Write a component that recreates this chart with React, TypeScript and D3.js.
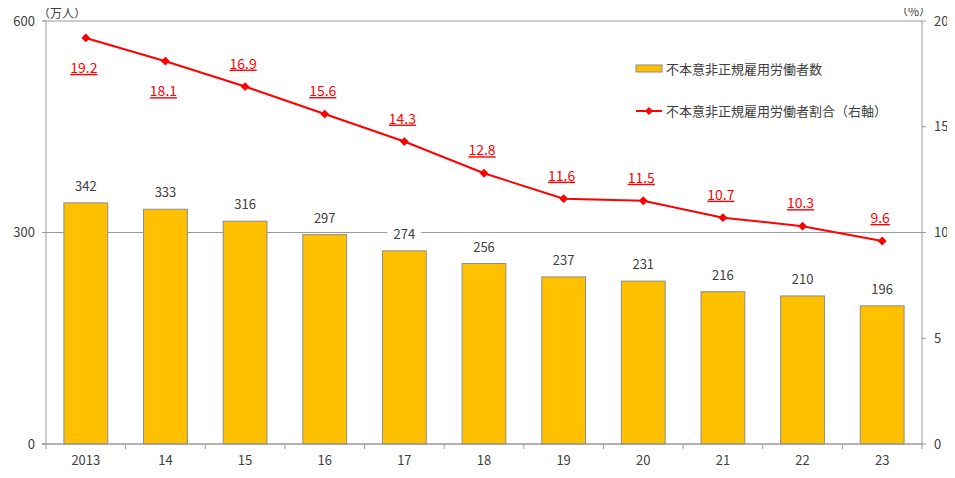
import * as d3 from 'd3'
import { useRef, useEffect } from 'react'

const W = 955, H = 478
const M = { top: 21, right: 33, bottom: 34, left: 46 }

const YEARS = ['2013', '14', '15', '16', '17', '18', '19', '20', '21', '22', '23']
const WORKERS = [342, 333, 316, 297, 274, 256, 237, 231, 216, 210, 196]
const RATIO = [19.2, 18.1, 16.9, 15.6, 14.3, 12.8, 11.6, 11.5, 10.7, 10.3, 9.6]
const LEFT_TICKS = [0, 300, 600]
const RIGHT_TICKS = [0, 5, 10, 15, 20]
const BAR_LABEL = '不本意非正規雇用労働者数'
const LINE_LABEL = '不本意非正規雇用労働者割合（右軸）'

const FONT = '"Noto Sans CJK JP", "Noto Sans", sans-serif'
const TXT = '#404040'
const AXIS = '#999999'
const RED = '#ff0000'

export default function App() {
  const svgRef = useRef<SVGSVGElement>(null)

  useEffect(() => {
    const svg = d3.select(svgRef.current)
    svg.selectAll('*').remove()
    svg.attr('font-family', FONT)

    const x = d3.scaleBand().domain(YEARS).range([M.left, W - M.right]).paddingInner(0.45).paddingOuter(0.225)
    const yL = d3.scaleLinear().domain([0, 600]).range([H - M.bottom, M.top])
    const yR = d3.scaleLinear().domain([0, 20]).range([H - M.bottom, M.top])
    const x0 = M.left, x1 = W - M.right

    // gridlines (300 and 600)
    LEFT_TICKS.filter((t) => t > 0).forEach((t) => {
      svg.append('line').attr('x1', x0 - 3).attr('x2', x1).attr('y1', yL(t)).attr('y2', yL(t))
        .attr('stroke', AXIS).attr('stroke-width', 1)
    })

    // bars
    svg.append('g').selectAll('rect').data(WORKERS).join('rect')
      .attr('x', (_, i) => x(YEARS[i])!)
      .attr('y', (d) => yL(d))
      .attr('width', x.bandwidth())
      .attr('height', (d) => yL(0) - yL(d))
      .attr('fill', '#ffc000').attr('stroke', '#8c8c8c').attr('stroke-width', 1)

    // bar labels with white background
    const bl = svg.append('g')
    WORKERS.forEach((d, i) => {
      const cx = x(YEARS[i])! + x.bandwidth() / 2
      const cy = yL(d) - 12
      bl.append('rect').attr('x', cx - 17).attr('y', cy - 10).attr('width', 34).attr('height', 16).attr('fill', '#fff')
      bl.append('text').attr('x', cx).attr('y', cy).attr('text-anchor', 'middle')
        .attr('font-size', 13).attr('fill', TXT).text(d)
    })

    // left axis
    svg.append('line').attr('x1', x0).attr('x2', x0).attr('y1', M.top).attr('y2', H - M.bottom).attr('stroke', AXIS)
    LEFT_TICKS.forEach((t) => {
      svg.append('line').attr('x1', x0 - 4).attr('x2', x0).attr('y1', yL(t)).attr('y2', yL(t)).attr('stroke', AXIS)
      svg.append('text').attr('x', x0 - 11).attr('y', yL(t)).attr('dy', '0.35em').attr('text-anchor', 'end')
        .attr('font-size', 13).attr('fill', TXT).text(t)
    })

    // right axis
    svg.append('line').attr('x1', x1).attr('x2', x1).attr('y1', M.top).attr('y2', H - M.bottom).attr('stroke', AXIS)
    RIGHT_TICKS.forEach((t) => {
      svg.append('line').attr('x1', x1).attr('x2', x1 + 4).attr('y1', yR(t)).attr('y2', yR(t)).attr('stroke', AXIS)
      svg.append('text').attr('x', x1 + 12).attr('y', yR(t)).attr('dy', '0.35em').attr('text-anchor', 'start')
        .attr('font-size', 13).attr('fill', TXT).text(t)
    })

    // bottom axis
    svg.append('line').attr('x1', x0 - 4).attr('x2', x1).attr('y1', yL(0)).attr('y2', yL(0)).attr('stroke', AXIS).attr('stroke-width', 1.5)
    const step = x.step()
    YEARS.forEach((yr, i) => {
      const tx = x0 + i * step
      svg.append('line').attr('x1', tx).attr('x2', tx).attr('y1', yL(0)).attr('y2', yL(0) + 5).attr('stroke', AXIS)
      svg.append('text').attr('x', x(yr)! + x.bandwidth() / 2).attr('y', yL(0) + 21).attr('text-anchor', 'middle')
        .attr('font-size', 13).attr('fill', TXT).text(yr)
    })
    svg.append('line').attr('x1', x1).attr('x2', x1).attr('y1', yL(0)).attr('y2', yL(0) + 5).attr('stroke', AXIS)

    // unit labels
    svg.append('text').attr('x', 38).attr('y', 18).attr('font-size', 12).attr('fill', TXT).text('（万人）')
    svg.append('text').attr('x', 896).attr('y', 16).attr('font-size', 12).attr('fill', TXT).text('（%）')

    // line
    const cx = (i: number) => x(YEARS[i])! + x.bandwidth() / 2
    const line = d3.line<number>().x((_, i) => cx(i)).y((d) => yR(d))
    svg.append('path').datum(RATIO).attr('d', line).attr('fill', 'none').attr('stroke', RED).attr('stroke-width', 2)
    svg.append('g').selectAll('path').data(RATIO).join('path')
      .attr('d', d3.symbol(d3.symbolDiamond2, 50)())
      .attr('transform', (d, i) => `translate(${cx(i)},${yR(d)})`)
      .attr('fill', RED)

    // line labels: first two sit below their points, the rest above
    RATIO.forEach((d, i) => {
      const below = i < 2
      svg.append('text').attr('x', cx(i) - 2).attr('y', yR(d) + (below ? 35 : -18))
        .attr('text-anchor', 'middle').attr('font-size', 14).attr('fill', RED)
        .attr('text-decoration', 'underline').text(d.toFixed(1))
    })

    // legend
    const lx = 636
    svg.append('rect').attr('x', lx).attr('y', 65).attr('width', 26).attr('height', 7)
      .attr('fill', '#ffc000').attr('stroke', '#8c8c8c')
    svg.append('text').attr('x', lx + 30).attr('y', 69).attr('dy', '0.35em').attr('font-size', 13).attr('fill', TXT).text(BAR_LABEL)
    svg.append('line').attr('x1', lx).attr('x2', lx + 26).attr('y1', 111).attr('y2', 111).attr('stroke', RED).attr('stroke-width', 2)
    svg.append('path').attr('d', d3.symbol(d3.symbolDiamond2, 40)()).attr('transform', `translate(${lx + 13},111)`).attr('fill', RED)
    svg.append('text').attr('x', lx + 30).attr('y', 111).attr('dy', '0.35em').attr('font-size', 13).attr('fill', TXT).text(LINE_LABEL)
  }, [])

  return (
    <div style={{ margin: -8 }}>
      <svg ref={svgRef} width={W} height={H} style={{ display: 'block' }} />
    </div>
  )
}
